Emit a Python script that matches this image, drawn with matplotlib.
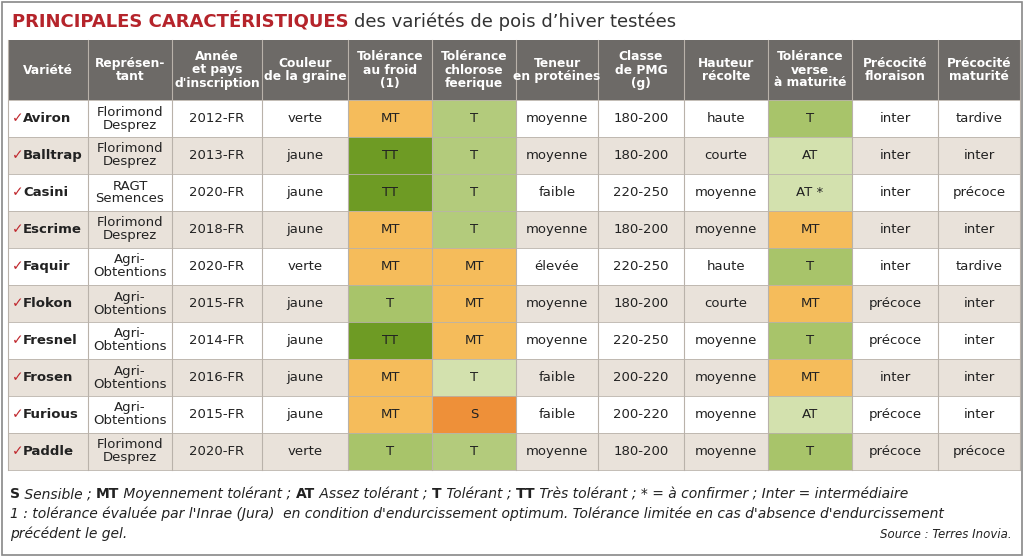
import matplotlib.pyplot as plt
from matplotlib.patches import Rectangle

plt.rcParams['font.family'] = ['Liberation Sans Narrow', 'DejaVu Sans']

headers = ['Variété', 'Représen-\ntant', 'Année\net pays\nd\'inscription', 'Couleur\nde la graine',
           'Tolérance\nau froid\n(1)', 'Tolérance\nchlorose\nfeerique', 'Teneur\nen protéines',
           'Classe\nde PMG\n(g)', 'Hauteur\nrécolte', 'Tolérance\nverse\nà maturité',
           'Précocité\nfloraison', 'Précocité\nmaturité']
varietes = ['Aviron', 'Balltrap', 'Casini', 'Escrime', 'Faquir', 'Flokon', 'Fresnel', 'Frosen', 'Furious', 'Paddle']
representant = ['Florimond\nDesprez', 'Florimond\nDesprez', 'RAGT\nSemences', 'Florimond\nDesprez', 'Agri-\nObtentions',
                'Agri-\nObtentions', 'Agri-\nObtentions', 'Agri-\nObtentions', 'Agri-\nObtentions', 'Florimond\nDesprez']
annee = ['2012-FR', '2013-FR', '2020-FR', '2018-FR', '2020-FR', '2015-FR', '2014-FR', '2016-FR', '2015-FR', '2020-FR']
couleur = ['verte', 'jaune', 'jaune', 'jaune', 'verte', 'jaune', 'jaune', 'jaune', 'jaune', 'verte']
froid = ['MT', 'TT', 'TT', 'MT', 'MT', 'T', 'TT', 'MT', 'MT', 'T']
chlorose = ['T', 'T', 'T', 'T', 'MT', 'MT', 'MT', 'T', 'S', 'T']
chlorose_clair = [False, False, False, False, False, False, False, True, False, False]
proteines = ['moyenne', 'moyenne', 'faible', 'moyenne', 'élevée', 'moyenne', 'moyenne', 'faible', 'faible', 'moyenne']
pmg = ['180-200', '180-200', '220-250', '180-200', '220-250', '180-200', '220-250', '200-220', '200-220', '180-200']
hauteur = ['haute', 'courte', 'moyenne', 'moyenne', 'haute', 'courte', 'moyenne', 'moyenne', 'moyenne', 'moyenne']
verse = ['T', 'AT', 'AT *', 'MT', 'T', 'MT', 'T', 'MT', 'AT', 'T']
floraison = ['inter', 'inter', 'inter', 'inter', 'inter', 'précoce', 'précoce', 'inter', 'précoce', 'précoce']
maturite = ['tardive', 'inter', 'précoce', 'inter', 'tardive', 'inter', 'inter', 'inter', 'inter', 'précoce']

col_edges = [8, 88, 172, 262, 348, 432, 516, 598, 684, 768, 852, 938, 1020]
top_header, top_rows, row_h = 40, 100, 37
colors = {'MT': '#f5bc5b', 'TT': '#6e9b24', 'T': '#a8c46a', 'S': '#ee9039', 'AT': '#d3e1ae', 'AT *': '#d3e1ae'}
light = '#d3e1ae'

fig = plt.figure(figsize=(10.24, 5.57), dpi=100)
ax = fig.add_axes([0, 0, 1, 1])
ax.set_xlim(0, 1024)
ax.set_ylim(557, 0)
ax.axis('off')
fig.canvas.draw()
px = 1024 / fig.bbox.width


def width_of(t):
    return t.get_window_extent(renderer=fig.canvas.get_renderer()).width * px


ax.add_patch(Rectangle((2, 2), 1020, 553, fill=False, ec='#888888', lw=1.2))
t1 = ax.text(12, 22, 'PRINCIPALES CARACTÉRISTIQUES', color='#b5242b', fontsize=13, fontweight='bold', va='center')
ax.text(12 + width_of(t1) + 5, 22, 'des variétés de pois d\u2019hiver testées', color='#333333', fontsize=13, va='center')

# header
ax.add_patch(Rectangle((col_edges[0], top_header), col_edges[-1] - col_edges[0], top_rows - top_header,
                       fc='#6d6a67', ec='none'))
for i, h in enumerate(headers):
    xc = (col_edges[i] + col_edges[i + 1]) / 2
    ax.text(xc, (top_header + top_rows) / 2, h, color='white', fontsize=8.8, fontweight='bold',
            ha='center', va='center', linespacing=1.0)

columns = [varietes, representant, annee, couleur, froid, chlorose, proteines, pmg, hauteur, verse, floraison, maturite]
for r in range(len(varietes)):
    y0 = top_rows + r * row_h
    bg = 'white' if r % 2 == 0 else '#e9e2da'
    ax.add_patch(Rectangle((col_edges[0], y0), col_edges[-1] - col_edges[0], row_h, fc=bg, ec='none'))
    for c, col in enumerate(columns):
        x0, x1 = col_edges[c], col_edges[c + 1]
        val = col[r]
        if c in (4, 5, 9):
            fc = colors[val]
            if c == 5 and chlorose_clair[r]:
                fc = light
            elif c == 5 and val == 'T':
                fc = '#b3cb7c'
            ax.add_patch(Rectangle((x0, y0), x1 - x0, row_h, fc=fc, ec='none'))
        if c == 0:
            ax.text(x0 + 4, y0 + row_h / 2, '\u2713', color='#c0282e', fontsize=10, va='center',
                    fontweight='bold', family='DejaVu Sans')
            ax.text(x0 + 15, y0 + row_h / 2, val, color='#222222', fontsize=9.5, fontweight='bold', va='center')
        else:
            ax.text((x0 + x1) / 2, y0 + row_h / 2, val, color='#222222', fontsize=9.5,
                    ha='center', va='center', linespacing=1.0)

bottom = top_rows + len(varietes) * row_h
for x in col_edges:
    ax.plot([x, x], [top_header, bottom], color='#b9b2aa', lw=0.8)
for r in range(len(varietes) + 1):
    y = top_rows + r * row_h
    ax.plot([col_edges[0], col_edges[-1]], [y, y], color='#b9b2aa', lw=0.6)

leg = [('S', ' Sensible ; '), ('MT', ' Moyennement tolérant ; '), ('AT', ' Assez tolérant ; '),
       ('T', ' Tolérant ; '), ('TT', ' Très tolérant ; * = à confirmer ; Inter = intermédiaire')]
x = 10
for b, t in leg:
    tb = ax.text(x, 494, b, fontsize=10, fontweight='bold', va='center', color='#222222')
    x += width_of(tb)
    ti = ax.text(x, 494, t, fontsize=10, style='italic', va='center', color='#222222')
    x += width_of(ti)
ax.text(10, 514, '1 : tolérance évaluée par l\'Inrae (Jura)  en condition d\'endurcissement optimum. '
        'Tolérance limitée en cas d\'absence d\'endurcissement', fontsize=10, style='italic', va='center', color='#222222')
ax.text(10, 534, 'précédent le gel.', fontsize=10, style='italic', va='center', color='#222222')
ax.text(1012, 534, 'Source : Terres Inovia.', fontsize=8.5, style='italic', va='center', ha='right', color='#222222')

fig.savefig('out.png', dpi=100)
